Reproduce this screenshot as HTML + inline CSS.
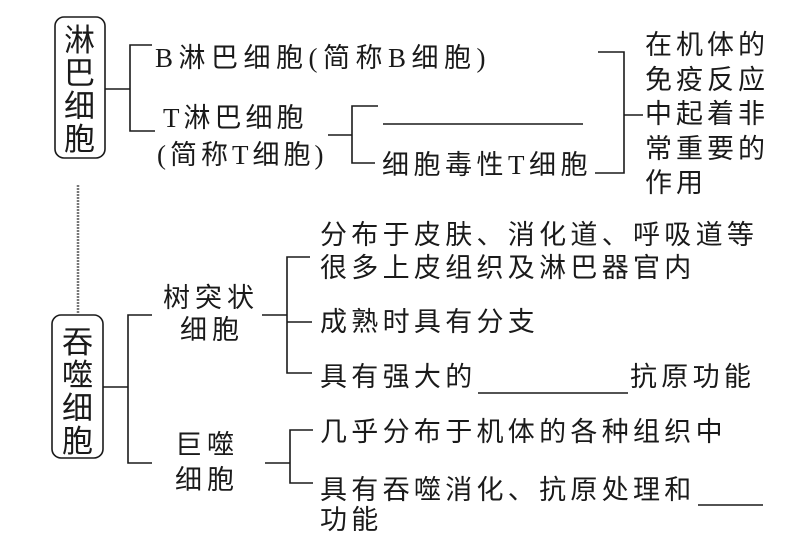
<!DOCTYPE html>
<html><head><meta charset="utf-8"><style>
html,body{margin:0;padding:0;background:#fff;}
body{width:789px;height:552px;position:relative;overflow:hidden;font-family:"Liberation Serif","Noto Sans CJK SC",serif;color:#1a1a1a;}
.t{position:absolute;white-space:nowrap;font-size:27px;line-height:30px;letter-spacing:3px;}
svg{position:absolute;left:0;top:0;}
</style></head><body>
<svg width="789" height="552" stroke="#1a1a1a" stroke-width="1.6" fill="none">
<rect x="55" y="17" width="50" height="141" rx="9"/>
<rect x="52" y="315" width="51" height="143" rx="9"/>
<line x1="78" y1="185" x2="78" y2="313" stroke="#777" stroke-width="2.5" stroke-dasharray="2 1"/>
<line x1="105" y1="89" x2="130" y2="89"/>
<polyline points="152,45 130,45 130,131 155,131"/>
<line x1="328" y1="135" x2="352" y2="135"/>
<polyline points="378,106 352,106 352,163 375,163"/>
<line x1="383" y1="124" x2="583" y2="124"/>
<polyline points="598,52 624,52 624,173 595,173"/>
<line x1="624" y1="115" x2="643" y2="115"/>
<line x1="103" y1="387" x2="128" y2="387"/>
<polyline points="152,315 128,315 128,463 152,463"/>
<line x1="262" y1="315" x2="287" y2="315"/>
<polyline points="310,257 287,257 287,373 312,373"/>
<line x1="287" y1="322" x2="312" y2="322"/>
<line x1="478" y1="393" x2="628" y2="393"/>
<line x1="265" y1="463" x2="290" y2="463"/>
<polyline points="313,430 290,430 290,483 313,483"/>
<line x1="698" y1="505" x2="763" y2="505"/>
</svg>
<div class="t" style="left:64px;top:24px;line-height:33px;white-space:normal;width:32px;font-size:31px;letter-spacing:0">淋巴细胞</div>
<div class="t" style="left:62px;top:326px;line-height:33px;white-space:normal;width:32px;font-size:31px;letter-spacing:0">吞噬细胞</div>
<div class="t" style="left:155px;top:43px;font-size:27px;letter-spacing:5.5px">B淋巴细胞(简称B细胞)</div>
<div class="t" style="left:163px;top:103px;font-size:27px;letter-spacing:4px">T淋巴细胞</div>
<div class="t" style="left:157px;top:140px;font-size:27px;letter-spacing:4px">(简称T细胞)</div>
<div class="t" style="left:382px;top:150px;font-size:27px;letter-spacing:4.5px">细胞毒性T细胞</div>
<div class="t" style="left:645px;top:28px;width:124px;white-space:normal;line-height:34.5px;letter-spacing:4px">在机体的免疫反应中起着非常重要的作用</div>
<div class="t" style="left:163px;top:283px;letter-spacing:5px">树突状</div>
<div class="t" style="left:180px;top:315px;letter-spacing:5px">细胞</div>
<div class="t" style="left:175px;top:430px;letter-spacing:5px">巨噬</div>
<div class="t" style="left:175px;top:465px;letter-spacing:5px">细胞</div>
<div class="t" style="left:320px;top:220px;letter-spacing:4.3px">分布于皮肤、消化道、呼吸道等</div>
<div class="t" style="left:320px;top:253px;letter-spacing:4.3px">很多上皮组织及淋巴器官内</div>
<div class="t" style="left:320px;top:307px;letter-spacing:4.3px">成熟时具有分支</div>
<div class="t" style="left:320px;top:362px;letter-spacing:4.3px">具有强大的</div>
<div class="t" style="left:630px;top:362px;letter-spacing:4.3px">抗原功能</div>
<div class="t" style="left:320px;top:417px;letter-spacing:4.3px">几乎分布于机体的各种组织中</div>
<div class="t" style="left:320px;top:475px;letter-spacing:4.3px">具有吞噬消化、抗原处理和</div>
<div class="t" style="left:320px;top:505px;letter-spacing:4.3px">功能</div>
</body></html>
